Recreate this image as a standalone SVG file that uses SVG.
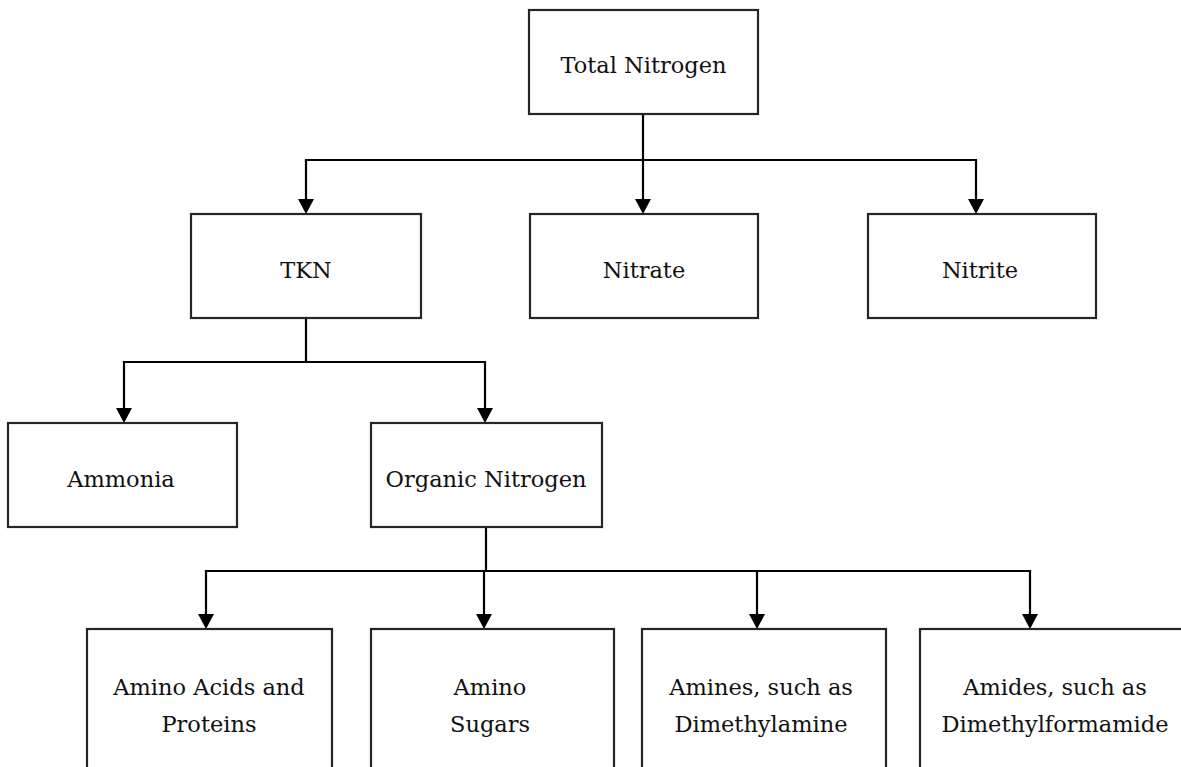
<svg xmlns="http://www.w3.org/2000/svg" width="1181" height="767" viewBox="0 0 1181 767">
  <style>
    .box { fill: #ffffff; stroke: #262626; stroke-width: 2.2; }
    .lbl { font-family: "DejaVu Serif", "Liberation Serif", serif; font-size: 22.5px; fill: #111; text-anchor: middle; }
    .wire { fill: none; stroke: #000; stroke-width: 2.2; marker-end: url(#head); }
    .trunk { fill: none; stroke: #000; stroke-width: 2.2; stroke-linecap: square; }
  </style>
  <defs>
    <marker id="head" markerUnits="userSpaceOnUse" markerWidth="16" markerHeight="16" refX="4" refY="8" orient="auto">
      <path d="M0,0 L15,8 L0,16 z" fill="#000"/>
    </marker>
  </defs>
  <rect width="1181" height="767" fill="#ffffff"/>

  <!-- connectors -->
  <g id="connectors">
    <path class="trunk" d="M643,114 V160 M306,160 H976"/>
    <path class="wire" d="M306,160 V203"/>
    <path class="wire" d="M643,160 V203"/>
    <path class="wire" d="M976,160 V203"/>

    <path class="trunk" d="M306,318 V362 M124,362 H485"/>
    <path class="wire" d="M124,362 V412"/>
    <path class="wire" d="M485,362 V412"/>

    <path class="trunk" d="M486,527 V571 M206,571 H1030"/>
    <path class="wire" d="M206,571 V618"/>
    <path class="wire" d="M484,571 V618"/>
    <path class="wire" d="M757,571 V618"/>
    <path class="wire" d="M1030,571 V618"/>
  </g>

  <!-- level 0 -->
  <g id="total-nitrogen">
    <rect class="box" x="529" y="10" width="229" height="104"/>
    <text class="lbl" x="643.5" y="73">Total Nitrogen</text>
  </g>

  <!-- level 1 -->
  <g id="tkn">
    <rect class="box" x="191" y="214" width="230" height="104"/>
    <text class="lbl" x="306" y="278">TKN</text>
  </g>
  <g id="nitrate">
    <rect class="box" x="530" y="214" width="228" height="104"/>
    <text class="lbl" x="644" y="278">Nitrate</text>
  </g>
  <g id="nitrite">
    <rect class="box" x="868" y="214" width="228" height="104"/>
    <text class="lbl" x="980" y="278">Nitrite</text>
  </g>

  <!-- level 2 -->
  <g id="ammonia">
    <rect class="box" x="8" y="423" width="229" height="104"/>
    <text class="lbl" x="121" y="487">Ammonia</text>
  </g>
  <g id="organic-nitrogen">
    <rect class="box" x="371" y="423" width="231" height="104"/>
    <text class="lbl" x="486" y="487">Organic Nitrogen</text>
  </g>

  <!-- level 3 -->
  <g id="amino-acids">
    <rect class="box" x="87" y="629" width="245" height="180"/>
    <text class="lbl" x="209" y="695">Amino Acids and</text>
    <text class="lbl" x="209" y="732">Proteins</text>
  </g>
  <g id="amino-sugars">
    <rect class="box" x="371" y="629" width="243" height="180"/>
    <text class="lbl" x="490" y="695">Amino</text>
    <text class="lbl" x="490" y="732">Sugars</text>
  </g>
  <g id="amines">
    <rect class="box" x="642" y="629" width="244" height="180"/>
    <text class="lbl" x="761" y="695">Amines, such as</text>
    <text class="lbl" x="761" y="732">Dimethylamine</text>
  </g>
  <g id="amides">
    <rect class="box" x="920" y="629" width="288" height="180"/>
    <text class="lbl" x="1055" y="695">Amides, such as</text>
    <text class="lbl" x="1055" y="732">Dimethylformamide</text>
  </g>
</svg>
